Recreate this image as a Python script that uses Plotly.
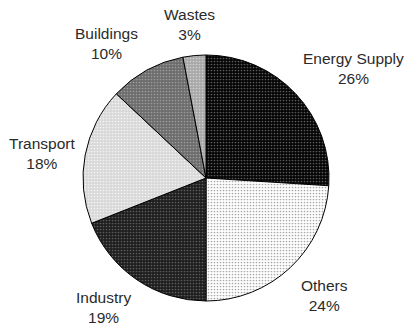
import math
import plotly.graph_objects as go

labels = ["Energy Supply", "Others", "Industry", "Transport", "Buildings", "Wastes"]
values = [26, 24, 19, 18, 10, 3]
bg_colors = ["#050505", "#ffffff", "#1e1e1e", "#d8d8d8", "#6c6c6c", "#a8a8a8"]
fg_colors = ["#5a5a5a", "#a8a8a8", "#5e5e5e", "#f4f4f4", "#9c9c9c", "#d0d0d0"]
# small label nudges (pixels) for layout
label_nudge = [(9, 0), (7, 1), (-7, -3), (7, 6), (-15, 6), (-1, 6)]

W, H = 404, 324
cx, cy, r = 206, 178, 123  # pixel geometry of pie

fig = go.Figure(go.Pie(
    labels=labels,
    values=values,
    sort=False,
    direction="clockwise",
    rotation=0,
    textinfo="none",
    hoverinfo="label+percent",
    showlegend=False,
    marker=dict(
        colors=bg_colors,
        line=dict(color="#000000", width=1),
        pattern=dict(shape=".", bgcolor=bg_colors, fgcolor=fg_colors,
                     size=3, solidity=0.25, fillmode="replace"),
    ),
    domain=dict(x=[(cx - r) / W, (cx + r) / W],
                y=[(H - cy - r) / H, (H - cy + r) / H]),
))

# labels placed outside slices, derived from the values
total = sum(values)
cum = 0
annotations = []
for (lab, v), (nx, ny) in zip(zip(labels, values), label_nudge):
    mid = (cum + v / 2) / total * 2 * math.pi
    cum += v
    dx, dy = math.sin(mid), -math.cos(mid)
    pr = r * 1.14
    w = len(lab) * 7.6
    h = 40
    px = cx + pr * dx + dx * w / 2 + nx
    py = cy + pr * dy + dy * h / 2 + ny
    annotations.append(dict(
        x=px / W, y=1 - py / H, xref="paper", yref="paper",
        text=f"{lab}<br>{round(v / total * 100)}%",
        showarrow=False, xanchor="center", yanchor="middle",
        font=dict(family="Liberation Sans, Arial, sans-serif", size=15.5, color="#2a2a2a"),
    ))

fig.update_layout(
    width=W, height=H,
    margin=dict(l=0, r=0, t=0, b=0),
    paper_bgcolor="white",
    plot_bgcolor="white",
    annotations=annotations,
)

fig.write_html("out.html")
